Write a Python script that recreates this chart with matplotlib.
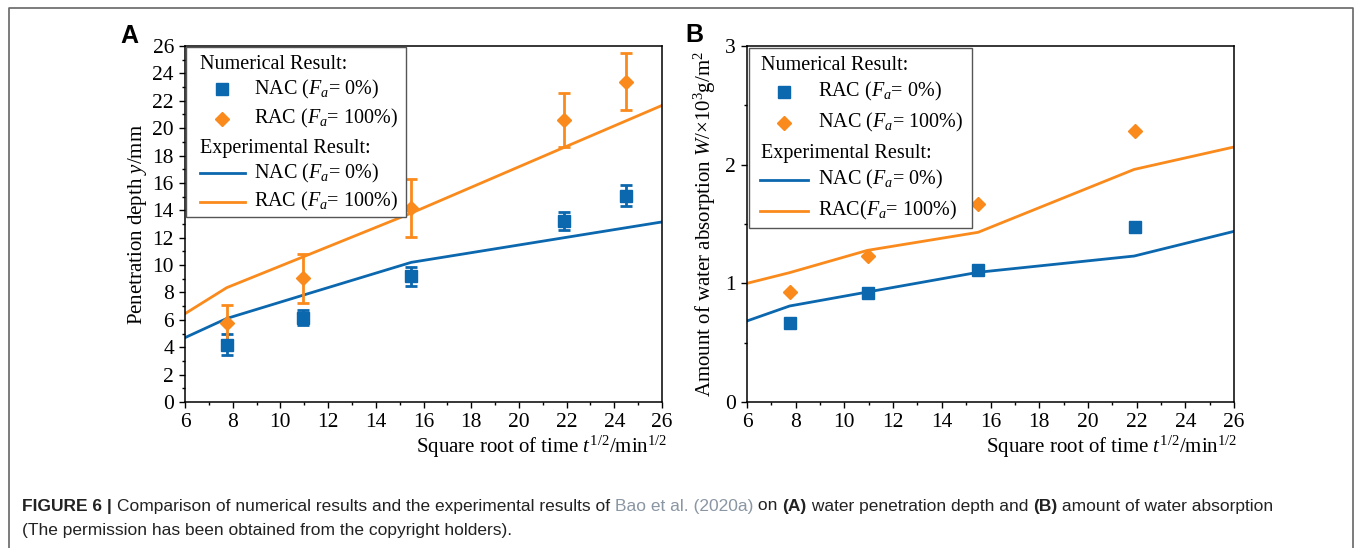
import matplotlib
matplotlib.use("Agg")
import matplotlib.pyplot as plt
from matplotlib.patches import Rectangle
from matplotlib.lines import Line2D
from matplotlib.ticker import MultipleLocator

# Panel A: penetration depth
time_a = [7.75, 10.95, 15.49, 21.9, 24.5]
nac_num_a = [4.17, 6.17, 9.17, 13.24, 15.07]
nac_err_a = [0.77, 0.57, 0.67, 0.67, 0.78]
rac_num_a = [5.8, 9.02, 14.15, 20.6, 23.4]
rac_err_a = [1.25, 1.8, 2.1, 2.0, 2.1]
line_t = [6, 7.75, 10.95, 15.49, 21.9, 26]
nac_exp_a = [4.7, 6.1, 7.8, 10.2, 12.0, 13.15]
rac_exp_a = [6.45, 8.35, 10.6, 13.8, 18.6, 21.66]

# Panel B: water absorption
time_b = [7.76, 10.95, 15.49, 21.92]
sq_num_b = [0.666, 0.918, 1.11, 1.472]
dia_num_b = [0.927, 1.228, 1.671, 2.281]
nac_exp_b = [0.683, 0.809, 0.927, 1.093, 1.23, 1.438]
rac_exp_b = [1.0, 1.09, 1.278, 1.43, 1.96, 2.149]

labels_a = ["Numerical Result:", "NAC ($F_a$= 0%)", "RAC ($F_a$= 100%)",
            "Experimental Result:", "NAC ($F_a$= 0%)", "RAC ($F_a$= 100%)"]
labels_b = ["Numerical Result:", "RAC ($F_a$= 0%)", "NAC ($F_a$= 100%)",
            "Experimental Result:", "NAC ($F_a$= 0%)", "RAC($F_a$= 100%)"]

BLUE = "#0b67ae"
ORANGE = "#fa8a1c"

plt.rcParams['font.family'] = 'Liberation Serif'
plt.rcParams['mathtext.fontset'] = 'custom'
plt.rcParams['mathtext.rm'] = 'Liberation Serif'
plt.rcParams['mathtext.it'] = 'Liberation Serif:italic'
plt.rcParams['axes.linewidth'] = 1.1

W, H = 1355, 548
fig = plt.figure(figsize=(W / 100, H / 100), dpi=100)

ax_a = fig.add_axes([185 / W, 1 - 402 / H, 477 / W, 356 / H])
ax_b = fig.add_axes([747 / W, 1 - 402 / H, 487 / W, 356 / H])


def style_axis(ax, ymax, ymajor, yminor):
    ax.set_xlim(6, 26)
    ax.set_ylim(0, ymax)
    ax.xaxis.set_major_locator(MultipleLocator(2))
    ax.xaxis.set_minor_locator(MultipleLocator(1))
    ax.yaxis.set_major_locator(MultipleLocator(ymajor))
    ax.yaxis.set_minor_locator(MultipleLocator(yminor))
    ax.tick_params(which='both', direction='out', top=False, right=False, width=1)
    ax.tick_params(which='major', length=4, pad=4, labelsize=15.5)
    ax.tick_params(which='minor', length=2)


def draw_legend(ax, box, rows, header_x, marker_x, text_x, line_x):
    x0, y0, x1, y1 = box
    ax.add_patch(Rectangle((x0, y0), x1 - x0, y1 - y0, transform=ax.transAxes,
                           facecolor='white', edgecolor='#555555', lw=1.0, zorder=10))
    for y, kind, label, color in rows:
        if kind == 'header':
            ax.text(header_x, y, label, transform=ax.transAxes, fontsize=14.5,
                    va='center', ha='left', zorder=11)
            continue
        if kind == 'line':
            ax.add_line(Line2D(line_x, [y, y], transform=ax.transAxes, color=color,
                               lw=2, zorder=11))
        else:
            ax.add_line(Line2D([marker_x], [y], transform=ax.transAxes, color=color,
                               marker=kind, ms=8 if kind == 's' else 7, lw=0, zorder=11))
        ax.text(text_x, y, label, transform=ax.transAxes, fontsize=14.5,
                va='center', ha='left', zorder=11)


# ---- Panel A ----
ax = ax_a
ax.plot(line_t, nac_exp_a, color=BLUE, lw=2, zorder=2)
ax.plot(line_t, rac_exp_a, color=ORANGE, lw=2, zorder=2)
ax.errorbar(time_a, nac_num_a, yerr=nac_err_a, fmt='s', ms=8, color=BLUE,
            ecolor=BLUE, elinewidth=2, capsize=4, capthick=2, zorder=3)
ax.errorbar(time_a, rac_num_a, yerr=rac_err_a, fmt='D', ms=7, color=ORANGE,
            ecolor=ORANGE, elinewidth=2, capsize=4, capthick=2, zorder=3)
style_axis(ax, 26, 2, 1)
ax.set_xlabel('Square root of time $t^{1/2}$/min$^{1/2}$', fontsize=15,
              ha='right', va='center')
ax.xaxis.set_label_coords(1.012, -0.125)
ax.set_ylabel('Penetration depth $y$/mm', fontsize=15, va='center')
ax.yaxis.set_label_coords(-0.10, 0.5)
draw_legend(ax, (0.002, 0.52, 0.463, 0.997),
            [(0.948, 'header', labels_a[0], None),
             (0.879, 's', labels_a[1], BLUE),
             (0.795, 'D', labels_a[2], ORANGE),
             (0.713, 'header', labels_a[3], None),
             (0.643, 'line', labels_a[4], BLUE),
             (0.562, 'line', labels_a[5], ORANGE)],
            header_x=0.031, marker_x=0.078, text_x=0.145, line_x=[0.031, 0.126])

# ---- Panel B ----
ax = ax_b
ax.plot(line_t, nac_exp_b, color=BLUE, lw=2, zorder=2)
ax.plot(line_t, rac_exp_b, color=ORANGE, lw=2, zorder=2)
ax.plot(time_b, sq_num_b, 's', ms=8, color=BLUE, zorder=3)
ax.plot(time_b, dia_num_b, 'D', ms=7, color=ORANGE, zorder=3)
style_axis(ax, 3, 1, 0.5)
ax.set_xlabel('Square root of time $t^{1/2}$/min$^{1/2}$', fontsize=15,
              ha='right', va='center')
ax.xaxis.set_label_coords(1.006, -0.125)
ax.set_ylabel('Amount of water absorption $W$/×10$^3$g/m$^2$', fontsize=15, va='center')
ax.yaxis.set_label_coords(-0.086, 0.5)
draw_legend(ax, (0.004, 0.489, 0.463, 0.994),
            [(0.944, 'header', labels_b[0], None),
             (0.872, 's', labels_b[1], BLUE),
             (0.785, 'D', labels_b[2], ORANGE),
             (0.697, 'header', labels_b[3], None),
             (0.624, 'line', labels_b[4], BLUE),
             (0.537, 'line', labels_b[5], ORANGE)],
            header_x=0.028, marker_x=0.076, text_x=0.146, line_x=[0.026, 0.125])

# panel letters
fig.text(129 / W, 1 - 36 / H, 'A', family='Liberation Sans', weight='bold',
         fontsize=18, ha='center', va='center')
fig.text(694 / W, 1 - 35 / H, 'B', family='Liberation Sans', weight='bold',
         fontsize=18, ha='center', va='center')

# figure frame (open at the bottom)
fig.add_artist(Line2D([9 / W, 9 / W, 1353 / W, 1353 / W], [-0.1, 1 - 8 / H, 1 - 8 / H, -0.1],
                      transform=fig.transFigure, color='#666666', lw=1.2))

# caption, drawn run by run
renderer = fig.canvas.get_renderer()


def caption_line(runs, x_px, y_px, size):
    x = x_px
    for txt, weight, color in runs:
        t = fig.text(x / W, 1 - y_px / H, txt, family='Liberation Sans', weight=weight,
                     color=color, fontsize=size, ha='left', va='center')
        x += t.get_window_extent(renderer).width


CAP = '#222222'
caption_line([("FIGURE 6 | ", 'bold', CAP),
              ("Comparison of numerical results and the experimental results of ", 'normal', CAP),
              ("Bao et al. (2020a)", 'normal', '#8a96a3'),
              (" on ", 'normal', CAP),
              ("(A)", 'bold', CAP),
              (" water penetration depth and ", 'normal', CAP),
              ("(B)", 'bold', CAP),
              (" amount of water absorption", 'normal', CAP)], 22, 506, 12.5)
caption_line([("(The permission has been obtained from the copyright holders).", 'normal', CAP)],
             22, 530, 12.5)

fig.savefig('out.png', dpi=100)
